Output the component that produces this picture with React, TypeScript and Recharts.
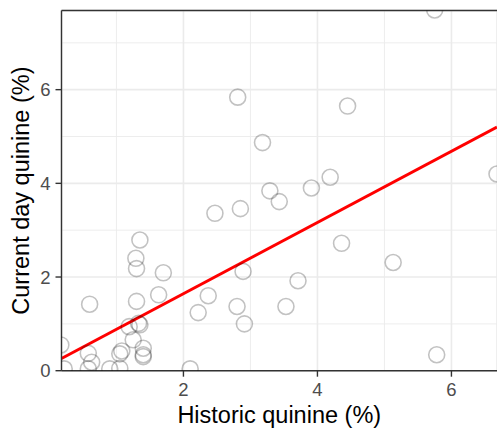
import React from 'react';
import { ScatterChart, Scatter, XAxis, YAxis, CartesianGrid, ReferenceLine, Label } from 'recharts';

// historic vs current day quinine (%)
const historic = [
  0.17, 0.22, 0.6, 0.58, 0.63, 0.58, 0.9, 1.05, 1.08, 1.05,
  1.19, 1.33, 1.35, 1.25, 1.4, 1.4, 1.4, 1.3, 1.3, 1.29,
  1.35, 1.7, 1.63, 2.1, 2.22, 2.37, 2.8, 2.91, 2.89, 2.47,
  2.85, 2.81, 3.18, 3.29, 3.43, 3.91, 4.19, 4.45, 3.53, 3.71,
  4.36, 5.13, 5.78, 6.68, 5.75,
];
const currentDay = [
  0.55, 0.04, 1.42, 0.37, 0.18, 0.04, 0.04, 0.05, 0.42, 0.36,
  0.94, 1.01, 0.98, 0.66, 0.48, 0.3, 0.34, 1.48, 2.18, 2.4,
  2.79, 2.09, 1.62, 0.04, 1.24, 1.6, 1.37, 1.0, 2.12, 3.36,
  3.46, 5.84, 4.87, 3.84, 3.61, 3.9, 4.13, 5.65, 1.37, 1.92,
  2.72, 2.31, 0.34, 4.2, 7.7,
];

// fitted line end points
const fitX = [0.18, 6.68];
const fitY = [0.26, 5.2];

const xDomain = [0.18, 6.68];
const yDomain = [0, 7.69];
const xTicks = [2, 4, 6];
const yTicks = [0, 2, 4, 6];
const xMinor = [1, 3, 5];
const yMinor = [1, 3, 5, 7];

const FONT = '"Liberation Sans", Arial, Helvetica, sans-serif';

const points = historic.map((h, i) => ({ x: h, y: currentDay[i] }));

const Ring = (props: any) => (
  <circle cx={props.cx} cy={props.cy} r={8} fill="none" stroke="#000" strokeOpacity={0.24} strokeWidth={1.6} />
);

export default function App() {
  const tickStyle = { fill: '#4D4D4D', fontSize: 18.5, fontFamily: FONT };
  return (
    <div style={{ position: 'absolute', left: 0, top: 0, width: 497, height: 430, overflow: 'hidden', background: '#fff' }}>
      <ScatterChart width={497} height={430} margin={{ top: 10.5, right: 0, bottom: 0, left: 0 }}>
        <CartesianGrid stroke="#EBEBEB" strokeWidth={1.6} />
        {xMinor.map((v) => (
          <ReferenceLine key={`mx${v}`} x={v} stroke="#EBEBEB" strokeWidth={0.9} />
        ))}
        {yMinor.map((v) => (
          <ReferenceLine key={`my${v}`} y={v} stroke="#EBEBEB" strokeWidth={0.9} />
        ))}
        <XAxis
          type="number"
          dataKey="x"
          domain={xDomain}
          ticks={xTicks}
          allowDataOverflow
          height={59.3}
          tick={tickStyle}
          tickSize={6}
          tickMargin={6}
          axisLine={{ stroke: '#333333', strokeWidth: 1.4 }}
          tickLine={{ stroke: '#333333', strokeWidth: 1.4 }}
        >
          <Label
            content={({ viewBox }: any) => {
              const cx = viewBox.x + viewBox.width / 2;
              const cy = viewBox.y + 52.6;
              return (
                <text x={cx} y={cy} textAnchor="middle" fontSize={23.5} fontFamily={FONT} fill="#000">
                  Historic quinine (%)
                </text>
              );
            }}
          />
        </XAxis>
        <YAxis
          type="number"
          dataKey="y"
          domain={yDomain}
          ticks={yTicks}
          allowDataOverflow
          width={61.5}
          tick={tickStyle}
          tickSize={6}
          tickMargin={5}
          axisLine={{ stroke: '#333333', strokeWidth: 1.4 }}
          tickLine={{ stroke: '#333333', strokeWidth: 1.4 }}
        >
          <Label
            content={({ viewBox }: any) => {
              const cx = viewBox.x + 29;
              const cy = viewBox.y + viewBox.height / 2;
              return (
                <text x={cx} y={cy} transform={`rotate(-90 ${cx} ${cy})`} textAnchor="middle" fontSize={23.5} fontFamily={FONT} fill="#000">
                  Current day quinine (%)
                </text>
              );
            }}
          />
        </YAxis>
        <ReferenceLine y={yDomain[1]} stroke="#333333" strokeWidth={1.4} />
        <Scatter data={points} shape={Ring} isAnimationActive={false} />
        <ReferenceLine
          segment={[{ x: fitX[0], y: fitY[0] }, { x: fitX[1], y: fitY[1] }]}
          stroke="#FF0000"
          strokeWidth={3}
        />
      </ScatterChart>
    </div>
  );
}
